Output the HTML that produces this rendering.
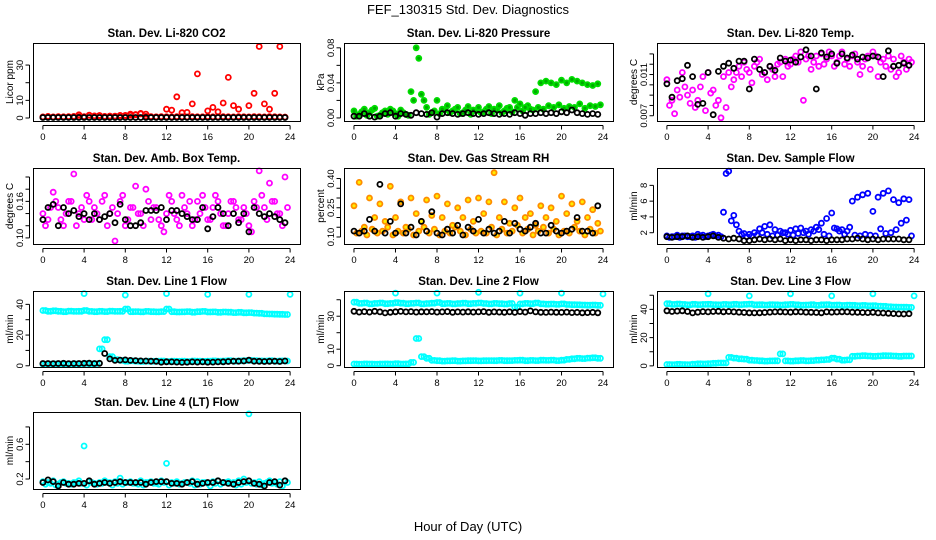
<!DOCTYPE html>
<html><head><meta charset="utf-8"><style>
html,body{margin:0;padding:0;background:#fff;}
svg{display:block;font-family:"Liberation Sans",Arial,sans-serif;}
</style></head><body>
<svg id="chart" width="936" height="540" viewBox="0 0 936 540">
<text x="468" y="14" font-size="13" text-anchor="middle">FEF_130315  Std. Dev. Diagnostics</text>
<text x="468" y="531" font-size="13" text-anchor="middle">Hour of Day (UTC)</text>
</svg>
<script>
const hoursA=[0,0.5,1,1.5,2,2.5,3,3.5,4,4.5,5,5.5,6,6.5,7,7.5,8,8.5,9,9.5,10,10.5,11,11.5,12,12.5,13,13.5,14,14.5,15,15.5,16,16.5,17,17.5,18,18.5,19,19.5,20,20.5,21,21.5,22,22.5,23,23.5];
const hoursB=[0.25,0.75,1.25,1.75,2.25,2.75,3.25,3.75,4.25,4.75,5.25,5.75,6.25,6.75,7.25,7.75,8.25,8.75,9.25,9.75,10.25,10.75,11.25,11.75,12.25,12.75,13.25,13.75,14.25,14.75,15.25,15.75,16.25,16.75,17.25,17.75,18.25,18.75,19.25,19.75,20.25,20.75,21.25,21.75,22.25,22.75,23.25,23.75];
const xTicks=[0,4,8,12,16,20,24];
const spikeHours=[4,8,12,16,20,24];

const co2Red=[0.5,0.8,0.6,0.7,0.5,0.8,0.6,1.8,0.7,1.5,1.2,1.3,0.9,1,1.1,1.3,1.5,1.6,2,2.4,2.2,0.8,0.6,0.5,5,4.5,12,3,3.2,8,25,0.6,4,6,3.5,8.5,23,7,5,0.5,7,14,40.5,8,5,14,40.5,0.5];
const co2Red2=[0.6,0.9,0.5,0.8,0.7,0.6,0.9,0.7,0.8,1.6,0.9,1.4,0.8,1.1,0.9,1.5,1.2,2.2,1.8,2.6,0.9,0.7,0.6,0.8,0.7,0.6,0.8,0.7,0.6,0.8,0.7,0.6,0.8,0.7,0.6,0.8,0.7,0.6,0.8,0.7,0.6,0.8,0.7,0.6,0.8,0.7,0.6,0.5];
const co2Black=[0.3,0.3,0.3,0.3,0.3,0.3,0.3,0.3,0.3,0.3,0.3,0.3,0.3,0.3,0.3,0.3,0.3,0.3,0.3,0.3,0.3,0.3,0.3,0.3,0.3,0.3,0.3,0.3,0.3,0.3,0.3,0.3,0.3,0.3,0.3,0.3,0.3,0.3,0.3,0.3,0.3,0.3,0.3,0.3,0.3,0.3,0.3,0.3];

const presGreenA=[0.008,0.004,0.01,0.006,0.011,0.003,0.008,0.01,0.005,0.009,0.004,0.03,0.08,0.027,0.012,0.006,0.02,0.01,0.014,0.008,0.012,0.006,0.013,0.009,0.012,0.007,0.013,0.01,0.014,0.008,0.012,0.02,0.016,0.012,0.01,0.03,0.04,0.042,0.04,0.038,0.043,0.04,0.044,0.042,0.04,0.038,0.037,0.039];
const presGreenB=[0.002,0.007,0.003,0.009,0.002,0.006,0.004,0.008,0.002,0.006,0.003,0.02,0.068,0.02,0.004,0.008,0.005,0.009,0.006,0.01,0.005,0.009,0.004,0.008,0.006,0.01,0.005,0.009,0.006,0.011,0.007,0.012,0.008,0.014,0.009,0.012,0.01,0.014,0.012,0.015,0.011,0.013,0.012,0.016,0.011,0.014,0.013,0.015];
const presBlack=[0.002,0.002,0.005,0.002,0.001,0.002,0.005,0.006,0.002,0.005,0.004,0.003,0.006,0.005,0.004,0.006,0.001,0.005,0.006,0.005,0.004,0.005,0.006,0.005,0.004,0.005,0.006,0.005,0.004,0.005,0.004,0.006,0.005,0.003,0.005,0.005,0.006,0.005,0.006,0.005,0.007,0.006,0.009,0.006,0.005,0.004,0.005,0.004];

const tempMagA=[0.0105,0.0085,0.0095,0.0112,0.009,0.0095,0.0085,0.0108,0.0112,0.0095,0.0085,0.0108,0.0112,0.0105,0.0118,0.0122,0.0112,0.0118,0.0125,0.0112,0.0118,0.0108,0.0122,0.0125,0.012,0.0128,0.0132,0.0125,0.0115,0.0128,0.013,0.0125,0.0128,0.0122,0.0132,0.0125,0.0128,0.0122,0.0118,0.0128,0.0132,0.0108,0.0125,0.0128,0.0125,0.0112,0.0122,0.0125];
const tempMagB=[0.008,0.0072,0.0088,0.0098,0.0082,0.0078,0.0098,0.0075,0.0092,0.008,0.0068,0.0078,0.0098,0.0112,0.0108,0.0115,0.0102,0.0122,0.011,0.0105,0.0115,0.012,0.0108,0.0118,0.0125,0.0122,0.0085,0.0128,0.0122,0.0118,0.012,0.0132,0.0118,0.0128,0.012,0.0118,0.013,0.011,0.0125,0.0115,0.0128,0.0122,0.0118,0.0115,0.0108,0.0128,0.0115,0.0122];
const tempBlack=[0.0101,0.0088,0.0104,0.0106,0.0119,0.0108,0.0081,0.0082,0.0112,0.0071,0.0113,0.0118,0.0121,0.0116,0.0123,0.0123,0.0096,0.0125,0.0115,0.0112,0.0118,0.0114,0.0126,0.0123,0.0124,0.0122,0.0127,0.0134,0.0128,0.0096,0.0131,0.0127,0.013,0.0121,0.013,0.0126,0.0129,0.0125,0.0127,0.0126,0.0128,0.0127,0.0108,0.0133,0.0118,0.0119,0.0121,0.0119];

const ambMagA=[0.14,0.13,0.175,0.15,0.12,0.16,0.205,0.14,0.13,0.16,0.15,0.13,0.17,0.14,0.095,0.16,0.12,0.15,0.185,0.14,0.18,0.13,0.15,0.12,0.14,0.16,0.13,0.17,0.14,0.12,0.16,0.17,0.13,0.15,0.16,0.12,0.14,0.16,0.13,0.15,0.12,0.16,0.21,0.15,0.19,0.16,0.14,0.2];
const ambMagB=[0.12,0.15,0.16,0.13,0.14,0.16,0.12,0.15,0.17,0.13,0.14,0.16,0.12,0.15,0.14,0.17,0.13,0.15,0.14,0.12,0.16,0.15,0.13,0.11,0.17,0.14,0.12,0.15,0.16,0.13,0.14,0.15,0.13,0.17,0.14,0.12,0.16,0.15,0.13,0.14,0.11,0.15,0.17,0.13,0.16,0.14,0.12,0.15];
const ambBlack=[0.13,0.15,0.155,0.12,0.15,0.14,0.145,0.135,0.14,0.13,0.14,0.13,0.135,0.14,0.125,0.155,0.13,0.12,0.12,0.125,0.145,0.145,0.145,0.15,0.13,0.145,0.145,0.14,0.135,0.13,0.13,0.15,0.115,0.135,0.15,0.14,0.12,0.14,0.125,0.14,0.11,0.15,0.14,0.135,0.14,0.135,0.13,0.125];

const rhOrangeA=[0.26,0.38,0.15,0.3,0.2,0.27,0.18,0.36,0.2,0.28,0.15,0.3,0.22,0.18,0.29,0.21,0.31,0.2,0.27,0.16,0.25,0.2,0.29,0.18,0.3,0.22,0.28,0.43,0.2,0.28,0.17,0.25,0.3,0.2,0.22,0.16,0.26,0.2,0.25,0.18,0.31,0.22,0.27,0.18,0.28,0.2,0.24,0.17];
const rhOrangeB=[0.12,0.13,0.11,0.14,0.12,0.13,0.15,0.11,0.13,0.12,0.14,0.11,0.13,0.15,0.12,0.14,0.11,0.13,0.12,0.15,0.13,0.11,0.14,0.12,0.13,0.12,0.15,0.11,0.14,0.12,0.13,0.16,0.12,0.14,0.11,0.13,0.15,0.12,0.14,0.11,0.13,0.12,0.15,0.13,0.11,0.14,0.12,0.13];
const rhBlack=[0.13,0.12,0.13,0.19,0.13,0.37,0.12,0.18,0.12,0.27,0.12,0.15,0.11,0.18,0.13,0.23,0.12,0.11,0.14,0.12,0.16,0.11,0.15,0.13,0.19,0.12,0.14,0.12,0.13,0.18,0.12,0.17,0.14,0.13,0.15,0.17,0.12,0.12,0.16,0.13,0.12,0.13,0.14,0.2,0.13,0.13,0.12,0.26];

const flowBlueA=[1.6,1.5,1.7,1.6,1.5,1.6,1.8,1.7,1.6,1.8,1.7,4.6,9.8,4.2,2.2,1.9,1.8,2.0,2.5,2.8,3.0,2.4,2.2,2.0,2.3,2.5,2.6,2.2,2.4,2.7,3.2,3.8,4.5,2.5,2.4,2.2,6.0,6.5,6.8,7.0,4.7,6.5,7.0,7.3,6.2,5.8,6.3,6.2];
const flowBlueB=[1.4,1.5,1.4,1.6,1.5,1.4,1.6,1.5,1.7,1.6,1.5,9.5,3.5,3.0,1.8,1.5,1.6,1.7,2.0,1.8,1.6,1.7,2.0,1.8,1.7,1.9,2.0,1.8,2.2,2.4,1.8,1.6,2.6,2.2,1.8,2.7,1.7,1.6,1.8,1.7,1.6,2.5,1.9,2.0,2.4,3.2,3.6,1.6];
const flowBlack=[1.5,1.4,1.5,1.5,1.6,1.4,1.5,1.4,1.5,1.6,1.4,1.3,1.2,1.3,1.2,1.0,1.0,1.1,1.2,1.1,1.2,1.1,1.2,1.0,1.1,1.0,1.1,1.1,1.0,1.1,1.1,1.0,1.1,1.1,1.1,1.2,1.2,1.3,1.2,1.1,1.2,1.1,1.2,1.2,1.2,1.2,1.1,1.1];

const l1Top=[36,35.5,35.8,35.5,35.2,35.6,35.4,35.5,36,35.4,35.2,35.5,35.3,35.6,35.4,35.5,37,35.2,35.3,35.1,35.4,35.2,35.1,35.3,37,35.2,35,35.1,35.3,34.9,35.2,35.4,35,35.1,34.8,35,34.9,34.6,34.8,34.5,34.6,34.3,34.2,33.8,33.7,33.6,33.5,33.4];
const l1Low=[1,1,1.2,1,1.1,1,1.2,1.1,1.5,1.2,1.4,11,17,6,4,3.5,3,3.2,3,2.8,3,2.9,3,3.1,2.8,3,2.9,3,2.8,3.1,3,2.9,3,3.2,3,3.1,3.3,3,3.2,3.4,3.5,3.3,3.2,3.1,3.3,3,3.2,3.1];
const l1Spike=[47,46,47,46.5,46.5,46.5];
const l1Black=[1.5,1.5,1.4,1.5,1.6,1.4,1.5,1.5,1.6,1.7,1.5,1.6,8,4.5,3.5,3.7,3.8,3.5,3.4,3.2,3.1,3,2.9,2.3,2.6,2.5,2.4,2.2,2.3,2.5,2.4,2.5,2.3,2.4,2.5,2.6,2.8,3,3,3.1,3.6,3,2.9,2.8,2.9,3,2.8,3.1];

const l2Top=[38.5,37.8,38,37.5,37.8,38,37.6,37.8,38.2,37.9,37.6,37.8,38,37.5,37.7,37.9,38.3,37.6,37.8,37.5,37.7,37.9,37.6,37.8,38,37.7,37.5,37.8,37.6,37.4,37.7,35.5,37.5,37.8,37.6,38,37.5,37.3,37.4,37.2,37.5,37.1,37,36.9,36.8,36.7,36.8,36.6];
const l2Black=[33,32.5,32.8,32.5,33,32.6,32,32.4,32.7,32.9,32.6,32.8,32.5,32.7,32.6,32.8,32.5,32.6,32.8,32.4,32.6,32.5,32.7,32.5,32.6,32.8,32.4,32.6,32.5,32.4,32.6,32.3,32.8,32.5,33.2,32.6,32.4,32.3,32.5,32.4,32.3,32.5,32.2,32.3,32.1,32.2,32.3,32.1];
const l2Low=[1,0.9,1.1,1,0.9,1,1.1,1,1.2,1,1.1,2,16.5,5.5,4.5,3.2,3,2.8,2.9,3,2.8,2.9,3,3.1,2.9,3,3.1,3,3.2,3,3.1,3.2,3.3,3,3.2,3.1,3.3,3.2,3.4,3.1,3.3,3.8,4.2,4.5,4.3,4.6,4.8,4.5];
const l2Spike=[44,44,44.5,44,44,43.5];

const l3Top=[44,43.5,43.8,43.5,43.2,43.6,43.4,43.5,43.6,43.4,43.2,43.5,43.3,43.6,43.4,43.5,43.7,43.2,43.3,43.1,43.4,43.2,43.1,43.3,43.5,43.2,43,43.1,43.3,42.9,43.2,43.4,43,43.1,42.8,43,42.9,42.6,42.8,42.5,42.6,42.3,42.2,41.8,41.7,41.6,41.5,41.4];
const l3Black=[39,38.5,38.8,39,38.5,37.5,38,38.4,38.2,38.5,38.6,38.3,38.5,38.2,38,37.8,37.6,37.5,37.6,37.8,38,38.2,38.3,38.1,38,38.3,38.2,38,37.9,37.8,37.6,38.2,38,38.1,38.3,38.2,38,37.9,37.8,37.7,37.9,37.5,37.4,37.2,37,36.8,36.7,36.9];
const l3Low=[1,0.9,1.1,1,0.9,1.2,1.5,1.4,1.6,1.8,2,2,6,5.5,5,4.8,4,3.8,3.6,3.4,3.5,3.6,8.5,3.5,3.4,3.6,3.8,3.5,3.7,4,4.2,4.5,5.5,4.8,4,4.2,6.8,7,7.2,7,6.8,7,7.2,7.1,7,6.8,7,7];
const l3Spike=[51,49.5,51,49.5,51,49.5];

const l4Cyan=[0.17,0.16,0.18,0.14,0.17,0.15,0.16,0.18,0.58,0.17,0.15,0.16,0.18,0.16,0.17,0.21,0.16,0.17,0.15,0.18,0.16,0.17,0.15,0.18,0.38,0.16,0.17,0.15,0.16,0.18,0.17,0.16,0.15,0.17,0.18,0.16,0.17,0.16,0.18,0.2,0.95,0.16,0.17,0.15,0.18,0.16,0.17,0.18];
const l4CyanB=[0.14,0.15,0.13,0.16,0.15,0.14,0.16,0.15,0.13,0.16,0.14,0.15,0.16,0.13,0.15,0.14,0.16,0.15,0.14,0.13,0.16,0.15,0.14,0.16,0.13,0.15,0.14,0.16,0.15,0.13,0.14,0.16,0.12,0.15,0.14,0.16,0.15,0.13,0.14,0.16,0.15,0.14,0.13,0.16,0.15,0.14,0.12,0.16];
const l4Black=[0.16,0.19,0.17,0.12,0.16,0.14,0.14,0.15,0.15,0.18,0.14,0.15,0.16,0.15,0.16,0.17,0.16,0.16,0.16,0.16,0.14,0.16,0.17,0.17,0.17,0.15,0.15,0.14,0.16,0.17,0.14,0.15,0.16,0.16,0.18,0.16,0.15,0.14,0.16,0.17,0.18,0.15,0.14,0.12,0.16,0.17,0.13,0.18];

const svg=document.getElementById('chart');
const NS='http://www.w3.org/2000/svg';
function mk(tag,attrs,parent){const e=document.createElementNS(NS,tag);for(const k in attrs)e.setAttribute(k,attrs[k]);(parent||svg).appendChild(e);return e;}

const panels=[
 {id:'co2',title:'Stan. Dev. Li-820 CO2',ylab:'Licor ppm',box:[33,43,300,121],y0:-1.7,y1:42.5,yt:[0,10,20,30],yl:[0,10,30],fmt:v=>String(v),
  series:[[hoursA,co2Red2,'#ff0000','none'],[hoursA,co2Red,'#ff0000','none'],[hoursA,co2Black,'#000','none']]},
 {id:'pressure',title:'Stan. Dev. Li-820 Pressure',ylab:'kPa',box:[344,43,613,121],y0:-0.0035,y1:0.0855,yt:[0,0.02,0.04,0.06,0.08],yl:[0,0.04,0.08],fmt:v=>v.toFixed(2),
  series:[[hoursB,presGreenB,'#00dd00','#00aa00'],[hoursA,presGreenA,'#00dd00','#00aa00'],[hoursA,presBlack,'#000','none']]},
 {id:'li820-temp',title:'Stan. Dev. Li-820 Temp.',ylab:'degrees C',box:[657,43,924,121],y0:0.00649,y1:0.01406,yt:[0.007,0.008,0.009,0.01,0.011,0.012,0.013],yl:[0.007,0.011],fmt:v=>v.toFixed(3),
  series:[[hoursB,tempMagB,'#ff00ff','none'],[hoursA,tempMagA,'#ff00ff','none'],[hoursA,tempBlack,'#000','none']]},
 {id:'amb-temp',title:'Stan. Dev. Amb. Box Temp.',ylab:'degrees C',box:[33,168,300,244],y0:0.090,y1:0.2148,yt:[0.10,0.12,0.14,0.16,0.18,0.20],yl:[0.10,0.16],fmt:v=>v.toFixed(2),
  series:[[hoursB,ambMagB,'#ff00ff','none'],[hoursA,ambMagA,'#ff00ff','none'],[hoursA,ambBlack,'#000','none']]},
 {id:'rh',title:'Stan. Dev. Gas Stream RH',ylab:'percent',box:[344,168,613,244],y0:0.064,y1:0.454,yt:[0.10,0.15,0.20,0.25,0.30,0.35,0.40],yl:[0.10,0.25,0.40],fmt:v=>v.toFixed(2),
  series:[[hoursB,rhOrangeB,'#ff8c00','#ffee00'],[hoursA,rhOrangeA,'#ff8c00','#ffee00'],[hoursA,rhBlack,'#000','none']]},
 {id:'sample-flow',title:'Stan. Dev. Sample Flow',ylab:'ml/min',box:[657,168,924,244],y0:0.57,y1:10.2,yt:[2,4,6,8],yl:[2,4,6,8],fmt:v=>String(v),
  series:[[hoursB,flowBlueB,'#0000ff','none'],[hoursA,flowBlueA,'#0000ff','none'],[hoursA,flowBlack,'#000','none']]},
 {id:'line1',title:'Stan. Dev. Line 1 Flow',ylab:'ml/min',box:[33,291,300,367],y0:-0.8,y1:48.7,yt:[0,10,20,30,40],yl:[0,20,40],fmt:v=>String(v),
  series:[[hoursA,l1Top,'#00ffff','none'],[hoursB,l1Top,'#00ffff','none'],[hoursA,l1Low,'#00ffff','none'],[hoursB,l1Low,'#00ffff','none'],[spikeHours,l1Spike,'#00ffff','none'],[hoursA,l1Black,'#000','none']]},
 {id:'line2',title:'Stan. Dev. Line 2 Flow',ylab:'ml/min',box:[344,291,613,367],y0:-0.8,y1:45.3,yt:[0,10,20,30,40],yl:[0,10,30],fmt:v=>String(v),
  series:[[hoursA,l2Top,'#00ffff','none'],[hoursB,l2Top,'#00ffff','none'],[hoursA,l2Low,'#00ffff','none'],[hoursB,l2Low,'#00ffff','none'],[spikeHours,l2Spike,'#00ffff','none'],[hoursA,l2Black,'#000','none']]},
 {id:'line3',title:'Stan. Dev. Line 3 Flow',ylab:'ml/min',box:[657,291,924,367],y0:-0.8,y1:53,yt:[0,10,20,30,40,50],yl:[0,20,40],fmt:v=>String(v),
  series:[[hoursA,l3Top,'#00ffff','none'],[hoursB,l3Top,'#00ffff','none'],[hoursA,l3Low,'#00ffff','none'],[hoursB,l3Low,'#00ffff','none'],[spikeHours,l3Spike,'#00ffff','none'],[hoursA,l3Black,'#000','none']]},
 {id:'line4',title:'Stan. Dev. Line 4 (LT) Flow',ylab:'ml/min',box:[33,412,300,489],y0:0.085,y1:0.972,yt:[0.2,0.4,0.6,0.8],yl:[0.2,0.6],fmt:v=>v.toFixed(1),
  series:[[hoursB,l4CyanB,'#00ffff','none'],[hoursA,l4Cyan,'#00ffff','none'],[hoursA,l4Black,'#000','none']]}
];

panels.forEach(p=>{
 const [L,T,R,B]=p.box;
 const xs=h=>L+(R-L)*(h+0.96)/25.92;
 const ys=v=>B-(B-T)*(v-p.y0)/(p.y1-p.y0);
 const g=mk('g',{});
 
 
 const t=mk('text',{x:(L+R)/2,y:T-6,'font-size':'11.5','font-weight':'bold','text-anchor':'middle'},g);
 t.textContent=p.title;
 
 
 const yl=mk('text',{x:L-20,y:(T+B)/2,'font-size':'10','text-anchor':'middle',transform:`rotate(-90 ${L-20} ${(T+B)/2})`},g);
 yl.textContent=p.ylab;
 
 
 const pts=mk('g',{},g);
 
 
 p.series.forEach(([hs,vs,col,fill])=>{
  vs.forEach((v,i)=>{
   if(hs[i]===undefined)return;
   const c=mk('circle',{cx:xs(hs[i]).toFixed(1),cy:ys(v).toFixed(1),r:2.5,fill:fill,stroke:col,'stroke-width':1.8},pts);
   
   
  });
 });
 const box=mk('rect',{x:L+0.5,y:T+0.5,width:R-L,height:B-T,fill:'none',stroke:'#000','stroke-width':1},g);
 
 
 const xa=mk('g',{},g);
 
 
 mk('line',{x1:xs(0),x2:xs(24),y1:B+4.5,y2:B+4.5,stroke:'#000'},xa);
 xTicks.forEach(h=>{
  mk('line',{x1:xs(h),x2:xs(h),y1:B+4.5,y2:B+8.5,stroke:'#000'},xa);
  const tl=mk('text',{x:xs(h),y:B+19,'font-size':'9.5','text-anchor':'middle'},xa);
  tl.textContent=h;
  
  
 });
 const ya=mk('g',{},g);
 
 
 mk('line',{x1:L-3.5,x2:L-3.5,y1:ys(p.yt[0]),y2:ys(p.yt[p.yt.length-1]),stroke:'#000'},ya);
 p.yt.forEach(v=>{
  mk('line',{x1:L-7.5,x2:L-3.5,y1:ys(v),y2:ys(v),stroke:'#000'},ya);
 });
 p.yl.forEach(v=>{
  const y=ys(v);
  const tl=mk('text',{x:L-10,y:y,'font-size':'9.5','text-anchor':'middle',transform:`rotate(-90 ${L-10} ${y})`},ya);
  tl.textContent=p.fmt(v);
  
  
 });
});
</script>
</body></html>
